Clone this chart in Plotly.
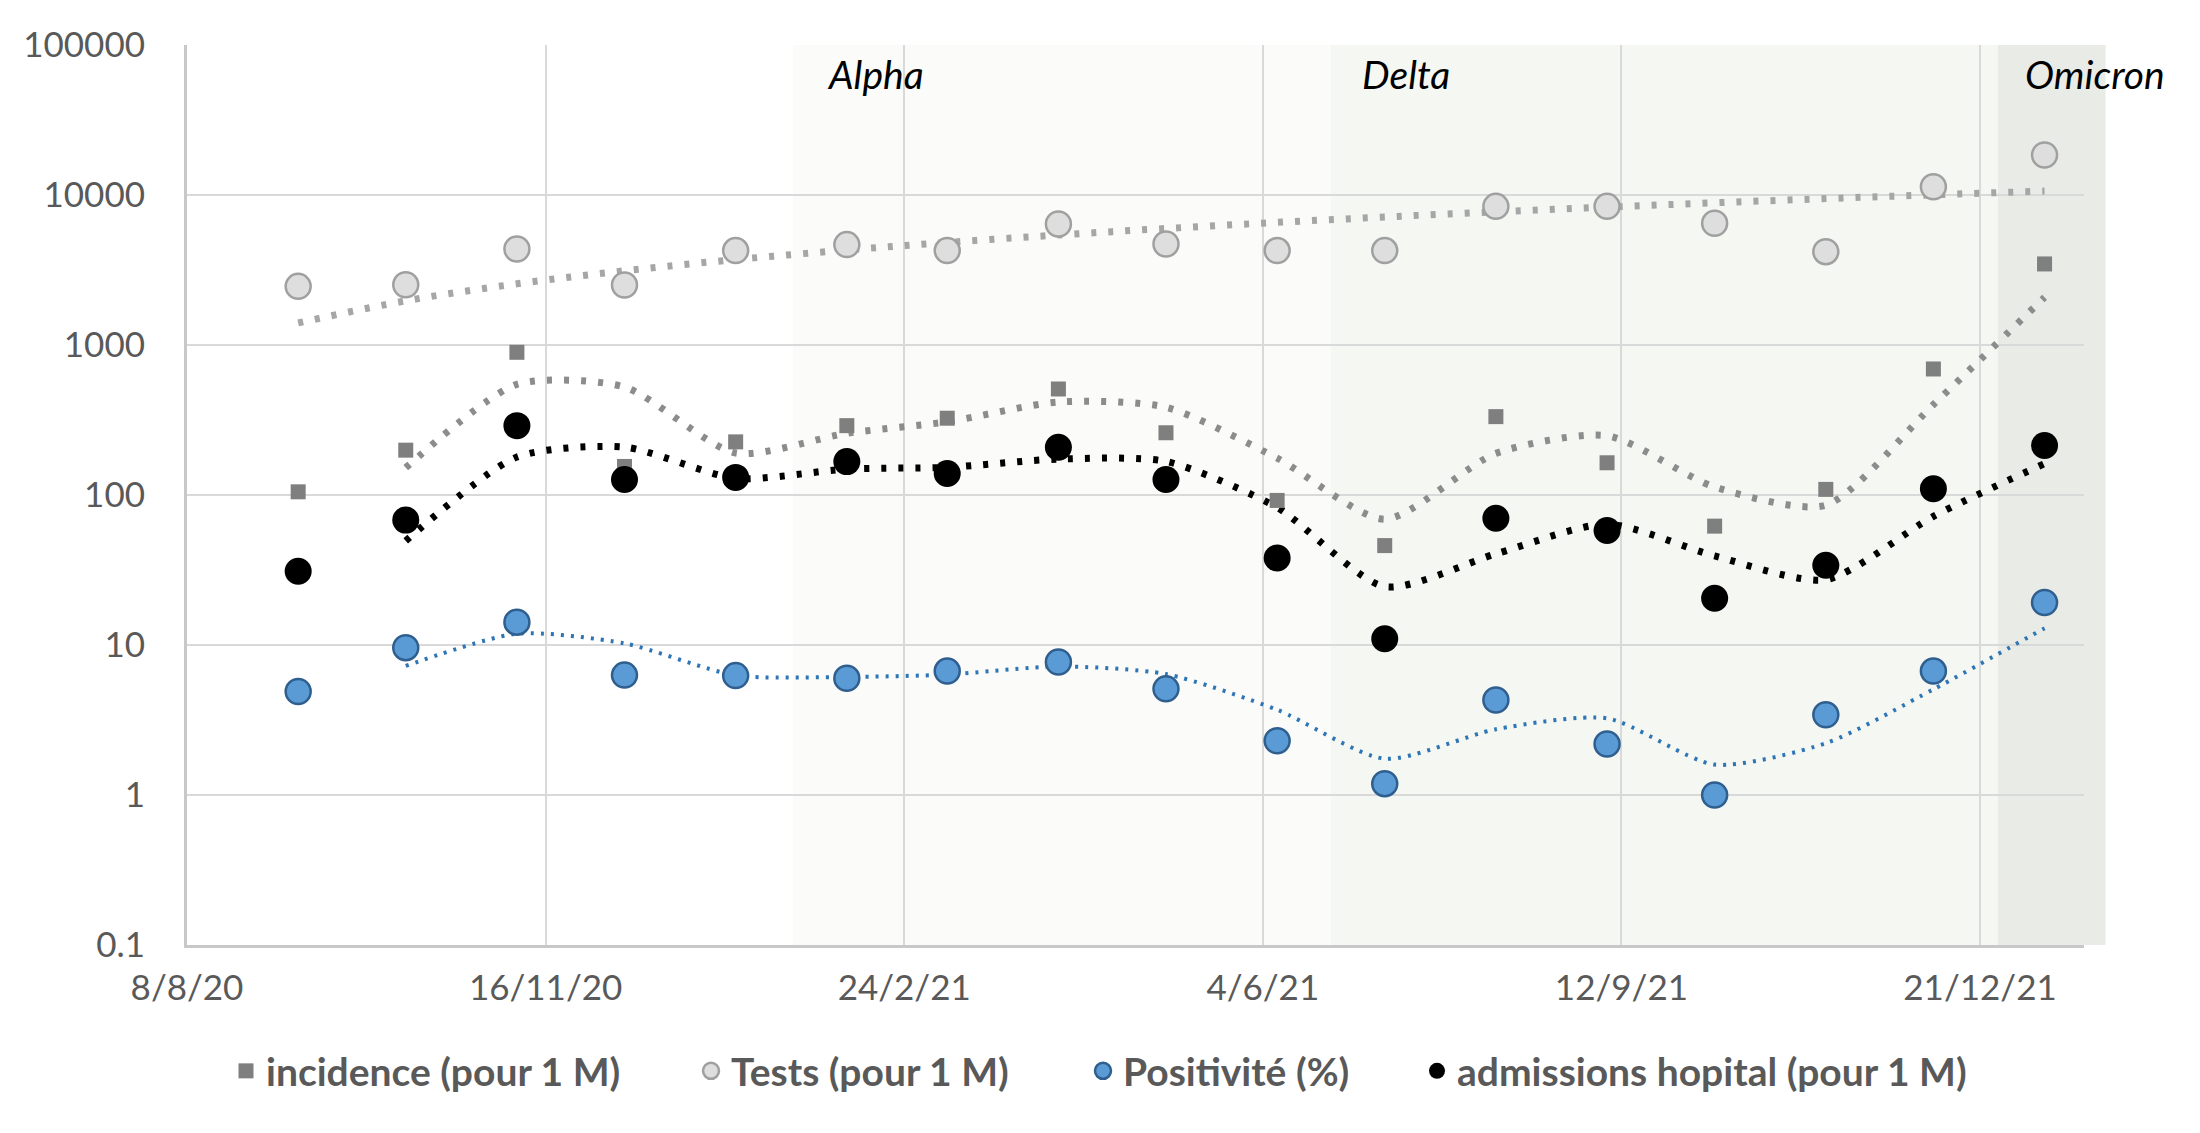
import numpy as np
import pandas as pd
import plotly.graph_objects as go

# ---------------- data ----------------
dates = ["2020-09-08", "2020-10-08", "2020-11-08", "2020-12-08", "2021-01-08",
         "2021-02-08", "2021-03-08", "2021-04-08", "2021-05-08", "2021-06-08",
         "2021-07-08", "2021-08-08", "2021-09-08", "2021-10-08", "2021-11-08",
         "2021-12-08", "2022-01-08"]
incidence = [105, 199, 894, 155, 226, 290, 325, 509, 260, 92, 46, 333, 164, 62, 109, 692, 3470]
tests = [2460, 2520, 4370, 2510, 4260, 4670, 4260, 6410, 4710, 4260, 4260, 8400, 8400, 6480, 4190, 11360, 18480]
positivite = [4.9, 9.6, 14.2, 6.3, 6.25, 6.0, 6.7, 7.7, 5.1, 2.3, 1.19, 4.3, 2.19, 1.0, 3.43, 6.7, 19.2]
admissions = [31, 68, 290, 127, 131, 167, 139, 208, 127, 38, 11, 70, 58, 20.5, 34, 110, 214]

series_names = ["incidence (pour 1 M)", "Tests (pour 1 M)", "Positivité (%)", "admissions hopital (pour 1 M)"]

x_tick_vals = ["2020-08-08", "2020-11-16", "2021-02-24", "2021-06-04", "2021-09-12", "2021-12-21"]
x_tick_text = ["8/8/20", "16/11/20", "24/2/21", "4/6/21", "12/9/21", "21/12/21"]
y_tick_vals = [0.1, 1, 10, 100, 1000, 10000, 100000]
y_tick_text = ["0.1", "1", "10", "100", "1000", "10000", "100000"]

variants = ["Alpha", "Delta", "Omicron"]
variant_start = ["2021-01-24", "2021-06-23", "2021-12-26"]
variant_end = ["2021-06-23", "2021-12-26", "2022-01-25"]
variant_label_date = ["2021-02-16", "2021-07-14", "2022-01-22"]
variant_colors = ["#fbfbf9", "#f5f7f2", "#e9ebe7"]

x_range = ["2020-08-08", "2022-01-19"]

# ---------------- derived ----------------
d = pd.to_datetime(dates)


def moving_avg(v):
    v = np.asarray(v, dtype=float)
    return d[1:], (v[1:] + v[:-1]) / 2.0


days = (d - d[0]).days.values.astype(float)
coef = np.polyfit(days, np.asarray(tests, dtype=float), 1)
tests_fit = np.polyval(coef, days)

r0 = pd.Timestamp(x_range[0])
r1 = pd.Timestamp(x_range[1])


def paper_x(s):
    return (pd.Timestamp(s) - r0) / (r1 - r0)


FONT = "Lato"
TXT = "#595959"
DOT = "5px,12px"

fig = go.Figure()

# trend lines
mx, my = moving_avg(incidence)
fig.add_trace(go.Scatter(x=mx, y=my, mode="lines", line=dict(color="#8c8c8c", width=7, dash=DOT, shape="spline", smoothing=0.7),
                         showlegend=False, hoverinfo="skip"))
fig.add_trace(go.Scatter(x=d, y=tests_fit, mode="lines", line=dict(color="#a6a6a6", width=7, dash=DOT, shape="spline"),
                         showlegend=False, hoverinfo="skip"))
mx, my = moving_avg(positivite)
fig.add_trace(go.Scatter(x=mx, y=my, mode="lines", line=dict(color="#2e75b6", width=4, dash="3px,7px", shape="spline", smoothing=0.7),
                         showlegend=False, hoverinfo="skip"))
mx, my = moving_avg(admissions)
fig.add_trace(go.Scatter(x=mx, y=my, mode="lines", line=dict(color="#000000", width=7, dash=DOT, shape="spline", smoothing=0.7),
                         showlegend=False, hoverinfo="skip"))

# markers
fig.add_trace(go.Scatter(x=d, y=incidence, mode="markers", name=series_names[0], legend="legend",
                         marker=dict(symbol="square", size=15, color="#7f7f7f", line=dict(width=0))))
fig.add_trace(go.Scatter(x=d, y=tests, mode="markers", name=series_names[1], legend="legend2",
                         marker=dict(symbol="circle", size=25, color="#dedede", line=dict(color="#a0a0a0", width=2.5))))
fig.add_trace(go.Scatter(x=d, y=positivite, mode="markers", name=series_names[2], legend="legend3",
                         marker=dict(symbol="circle", size=25, color="#5b9bd5", line=dict(color="#2f5f8f", width=2.5))))
fig.add_trace(go.Scatter(x=d, y=admissions, mode="markers", name=series_names[3], legend="legend4",
                         marker=dict(symbol="circle", size=27, color="#000000", line=dict(width=0))))

shapes = []
annotations = []
for name, s, e, lab, col in zip(variants, variant_start, variant_end, variant_label_date, variant_colors):
    shapes.append(dict(type="rect", xref="paper", yref="paper", x0=paper_x(s), x1=paper_x(e), y0=0, y1=1,
                       fillcolor=col, line=dict(width=0), layer="below"))
    annotations.append(dict(text="<i>" + name + "</i>", xref="paper", yref="paper", x=paper_x(lab), y=0.968,
                            xanchor="center", yanchor="middle", showarrow=False,
                            font=dict(family=FONT, size=39, color="#000000")))

L, R, T, B = 187, 116, 45, 188
PW = 2200 - L - R
legend_marker_px = [247, 712, 1104, 1438]


def leg(px):
    return dict(orientation="h", x=(px - 21 - L) / PW, xanchor="left", y=-0.140, yanchor="middle",
                bgcolor="rgba(0,0,0,0)", itemwidth=30,
                font=dict(family=FONT, size=39, color=TXT, weight="bold"))


fig.update_layout(
    width=2200, height=1133,
    margin=dict(l=L, r=R, t=T, b=B),
    paper_bgcolor="white", plot_bgcolor="white",
    font=dict(family=FONT, size=35, color=TXT),
    shapes=shapes, annotations=annotations,
    legend=leg(legend_marker_px[0]),
    legend2=leg(legend_marker_px[1]),
    legend3=leg(legend_marker_px[2]),
    legend4=leg(legend_marker_px[3]),
    showlegend=True,
)
fig.update_xaxes(type="date", range=x_range, tickvals=x_tick_vals, ticktext=x_tick_text,
                 showgrid=True, gridcolor="#d9d9d9", gridwidth=2,
                 showline=True, linecolor="#c8c8c8", linewidth=3,
                 ticks="", ticklabelstandoff=10, zeroline=False,
                 tickfont=dict(family=FONT, size=35, color=TXT))
fig.update_yaxes(type="log", range=[-1, 5], tickvals=y_tick_vals, ticktext=y_tick_text,
                 showgrid=True, gridcolor="#d9d9d9", gridwidth=2,
                 showline=True, linecolor="#c8c8c8", linewidth=3,
                 ticks="", ticklabelstandoff=32, zeroline=False,
                 tickfont=dict(family=FONT, size=35, color=TXT))

fig.write_html("out.html", config={"displayModeBar": False},
               post_script="document.body.style.margin='0';document.body.style.overflow='hidden';")
